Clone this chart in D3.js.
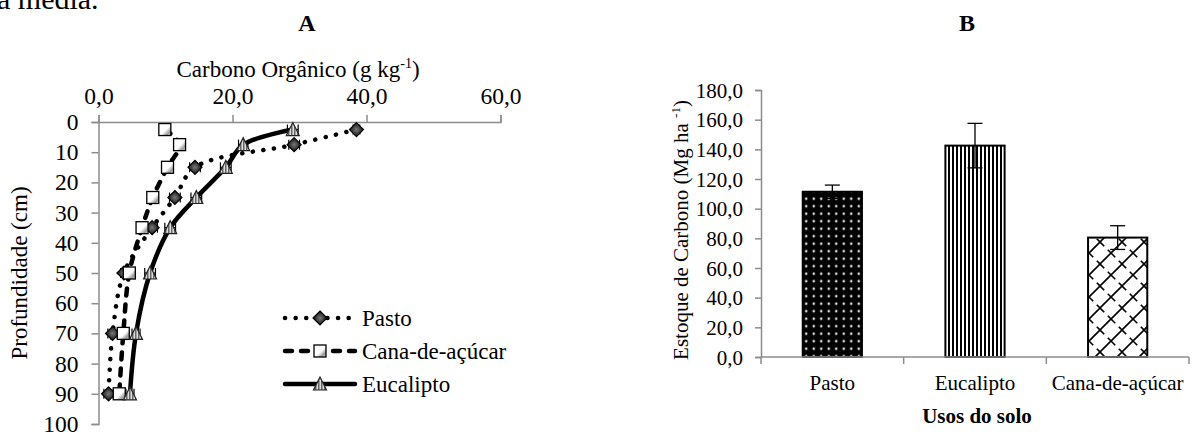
<!DOCTYPE html>
<html><head><meta charset="utf-8">
<script src="https://cdn.jsdelivr.net/npm/d3@7"></script>
<style>
html,body{margin:0;padding:0;background:#fff;}
svg{display:block;font-family:"Liberation Serif","Times New Roman",serif;}
</style></head>
<body>
<svg id="c" width="1200" height="436"></svg>
<script>
// ---------- DATA ----------
const depths = [2.5, 7.5, 15, 25, 35, 50, 70, 90];
const depthTicks = [0,10,20,30,40,50,60,70,80,90,100];
const carbonTicks = [0,20,40,60];
const pastoC = [38.5, 29.2, 14.4, 11.4, 8.0, 3.8, 2.1, 1.5];
const pastoErr = [0.5, 0.8, 0.8, 0.8, 0.8, 0.5, 0.7, 0.7];
const canaC = [9.9, 12.1, 10.3, 8.1, 6.5, 4.6, 3.7, 3.1];
const canaErr = [0.4, 0.6, 0.5, 0.6, 0.6, 0.7, 0.6, 0.8];
const eucC = [29.0, 21.6, 19.0, 14.6, 10.7, 7.7, 5.6, 4.7];
const eucErr = [0.8, 0.7, 0.8, 0.8, 0.8, 0.8, 0.6, 0.6];
const seriesNames = ["Pasto", "Cana-de-açúcar", "Eucalipto"];

const usos = ["Pasto", "Eucalipto", "Cana-de-açúcar"];
const estoque = [111.4, 142.5, 80.5];
const estoqueErr = [4.5, 15.0, 8.0];
const estoqueTicks = [0,20,40,60,80,100,120,140,160,180];

// ---------- SETUP ----------
const svg = d3.select("#c");
const fmt = v => d3.format(".1f")(v).replace(".", ",");
const axisGray = "#8c8c8c";
const defs = svg.append("defs");

const dg = defs.append("radialGradient").attr("id","diamG");
dg.append("stop").attr("offset","0%").attr("stop-color","#777");
dg.append("stop").attr("offset","100%").attr("stop-color","#111");
const sg = defs.append("linearGradient").attr("id","sqG").attr("x1","0").attr("y1","0").attr("x2","1").attr("y2","1");
sg.append("stop").attr("offset","0%").attr("stop-color","#fff");
sg.append("stop").attr("offset","55%").attr("stop-color","#fff");
sg.append("stop").attr("offset","80%").attr("stop-color","#999");
sg.append("stop").attr("offset","100%").attr("stop-color","#ddd");
const tp = defs.append("pattern").attr("id","triP").attr("patternUnits","userSpaceOnUse").attr("width",3).attr("height",3);
tp.append("rect").attr("width",3).attr("height",3).attr("fill","#ddd");
tp.append("rect").attr("width",1.5).attr("height",3).attr("fill","#666");

const pd = defs.append("pattern").attr("id","dotsP").attr("patternUnits","userSpaceOnUse").attr("width",7.5).attr("height",7.5);
pd.append("rect").attr("width",7.5).attr("height",7.5).attr("fill","#000");
pd.append("circle").attr("cx",3.75).attr("cy",3.75).attr("r",1.3).attr("fill","#ddd");
const pv = defs.append("pattern").attr("id","vertP").attr("patternUnits","userSpaceOnUse").attr("width",4).attr("height",4);
pv.append("rect").attr("width",4).attr("height",4).attr("fill","#fff");
pv.append("rect").attr("width",2).attr("height",4).attr("fill","#000");
const pl = defs.append("pattern").attr("id","latP").attr("patternUnits","userSpaceOnUse").attr("width",22).attr("height",22);
pl.append("rect").attr("width",22).attr("height",22).attr("fill","#fff");
pl.append("path").attr("d","M0,22 L22,0 M-11,11 L11,-11 M11,33 L33,11").attr("stroke","#000").attr("stroke-width",1.6);
pl.append("path").attr("d","M0,0 L11,11 M11,11 L22,22").attr("stroke","#000").attr("stroke-width",1.6).attr("stroke-dasharray","6 5");

// top cut text
svg.append("text").attr("x",-3).attr("y",9).attr("font-size",30).text("a média.");

// ---------- CHART A ----------
const xA = d3.scaleLinear().domain([0,60]).range([98.5,500.5]);
const yA = d3.scaleLinear().domain([0,100]).range([122,424]);

svg.append("text").attr("x",307).attr("y",31).attr("text-anchor","middle")
  .attr("font-size",24).attr("font-weight","bold").text("A");

const xt = svg.append("text").attr("x",298).attr("y",77).attr("text-anchor","middle").attr("font-size",23);
xt.append("tspan").text("Carbono Orgânico (g kg");
xt.append("tspan").attr("font-size",14).attr("dy",-9).text("-1");
xt.append("tspan").attr("dy",9).text(")");

const gxA = svg.append("g").attr("transform",`translate(0,${yA(0)})`)
  .call(d3.axisTop(xA).tickValues(carbonTicks).tickFormat(fmt).tickSizeOuter(0).tickSize(7).tickPadding(11));
const gyA = svg.append("g").attr("transform",`translate(${xA(0)},0)`)
  .call(d3.axisLeft(yA).tickValues(depthTicks).tickFormat(d3.format("d")).tickSizeOuter(0).tickSize(7).tickPadding(13));
[gxA, gyA].forEach(g => {
  g.select(".domain").attr("stroke",axisGray).attr("stroke-width",1.5);
  g.selectAll(".tick line").attr("stroke",axisGray).attr("stroke-width",1.5);
  g.selectAll(".tick text").attr("font-size",23.5).attr("font-family","Liberation Serif, Times New Roman, serif").attr("fill","#000");
});
gyA.selectAll(".tick text").attr("dy","0.32em");

svg.append("text").attr("transform",`translate(27,${(yA(0)+yA(100))/2}) rotate(-90)`)
  .attr("text-anchor","middle").attr("font-size",23).text("Profundidade (cm)");

const seriesA = [
  {name:seriesNames[0], vals:pastoC, err:pastoErr, dash:"0.1 10.5", marker:"diamond"},
  {name:seriesNames[1], vals:canaC, err:canaErr, dash:"7 9", marker:"square"},
  {name:seriesNames[2], vals:eucC, err:eucErr, dash:null, marker:"triangle"}
];
const line = d3.line().x(d=>xA(d.c)).y(d=>yA(d.d)).curve(d3.curveCatmullRom.alpha(0.5));

function styleLine(sel, s){
  sel.attr("fill","none").attr("stroke","#000").attr("stroke-width",4.5).attr("stroke-linecap","round").attr("stroke-linejoin","round");
  if (s.dash) sel.attr("stroke-dasharray", s.dash);
}
function drawMarker(g, type, cx, cy){
  if (type==="diamond") {
    g.append("path").attr("d",`M${cx},${cy-7} L${cx+7},${cy} L${cx},${cy+7} L${cx-7},${cy} Z`)
      .attr("fill","url(#diamG)").attr("stroke","#000").attr("stroke-width",1.2);
  } else if (type==="square") {
    g.append("rect").attr("x",cx-6).attr("y",cy-6).attr("width",12).attr("height",12)
      .attr("fill","url(#sqG)").attr("stroke","#000").attr("stroke-width",1.3);
  } else {
    g.append("path").attr("d",`M${cx},${cy-7} L${cx+6.5},${cy+6} L${cx-6.5},${cy+6} Z`)
      .attr("fill","url(#triP)").attr("stroke","#222").attr("stroke-width",1.2);
  }
}

seriesA.forEach(s => {
  const pts = depths.map((d,i)=>({d:d, c:s.vals[i]}));
  styleLine(svg.append("path").attr("d", line(pts)), s);
});
seriesA.forEach(s => {
  const g = svg.append("g");
  depths.forEach((d,i) => {
    const y = yA(d), x1 = xA(s.vals[i]-s.err[i]), x2 = xA(s.vals[i]+s.err[i]);
    g.append("line").attr("x1",x1).attr("x2",x2).attr("y1",y).attr("y2",y).attr("stroke","#000").attr("stroke-width",1.2);
    [x1,x2].forEach(x => g.append("line").attr("x1",x).attr("x2",x).attr("y1",y-5).attr("y2",y+5).attr("stroke","#000").attr("stroke-width",1.2));
  });
  depths.forEach((d,i) => drawMarker(g, s.marker, xA(s.vals[i]), yA(d)));
});

// legend
const legY = [318, 351, 384];
seriesA.forEach((s,i) => {
  const g = svg.append("g");
  styleLine(g.append("path").attr("d",`M285,${legY[i]} L355,${legY[i]}`), s);
  drawMarker(g, s.marker, 320, legY[i]);
  g.append("text").attr("x",362).attr("y",legY[i]).attr("dy","0.34em").attr("font-size",23).text(s.name);
});

// ---------- CHART B ----------
const xB = d3.scaleBand().domain(usos).range([761,1189]).paddingInner(0.585).paddingOuter(0.2925);
const yB = d3.scaleLinear().domain([0,180]).range([357,90]);

svg.append("text").attr("x",967).attr("y",31).attr("text-anchor","middle")
  .attr("font-size",24).attr("font-weight","bold").text("B");

const gyB = svg.append("g").attr("transform",`translate(761,0)`)
  .call(d3.axisLeft(yB).tickValues(estoqueTicks).tickFormat(fmt).tickSizeOuter(0).tickSize(6).tickPadding(12));
gyB.select(".domain").attr("stroke",axisGray).attr("stroke-width",1.5);
gyB.selectAll(".tick line").attr("stroke",axisGray).attr("stroke-width",1.5);
gyB.selectAll(".tick text").attr("font-size",21).attr("font-family","Liberation Serif, Times New Roman, serif").attr("fill","#000").attr("dy","0.34em");

const fills = ["url(#dotsP)","url(#vertP)","url(#latP)"];
usos.forEach((u,i) => {
  svg.append("rect").attr("x",xB(u)).attr("width",xB.bandwidth())
    .attr("y",yB(estoque[i])).attr("height",yB(0)-yB(estoque[i]))
    .attr("fill",fills[i]).attr("stroke","#000").attr("stroke-width",2);
});

const bounds = [0,1,2,3].map(k => 761 + k*(1189-761)/3);
svg.append("line").attr("x1",761).attr("x2",1189).attr("y1",yB(0)).attr("y2",yB(0)).attr("stroke",axisGray).attr("stroke-width",1.5);
bounds.forEach(b => svg.append("line").attr("x1",b).attr("x2",b).attr("y1",yB(0)).attr("y2",yB(0)+7).attr("stroke",axisGray).attr("stroke-width",1.5));
usos.forEach(u => svg.append("text").attr("x",xB(u)+xB.bandwidth()/2).attr("y",390).attr("text-anchor","middle").attr("font-size",21).text(u));

usos.forEach((u,i) => {
  const cx = xB(u)+xB.bandwidth()/2;
  const t = yB(estoque[i]+estoqueErr[i]), b = yB(estoque[i]-estoqueErr[i]);
  svg.append("line").attr("x1",cx).attr("x2",cx).attr("y1",t).attr("y2",b).attr("stroke","#000").attr("stroke-width",1.3);
  [t,b].forEach(y => svg.append("line").attr("x1",cx-7.5).attr("x2",cx+7.5).attr("y1",y).attr("y2",y).attr("stroke","#000").attr("stroke-width",1.3));
});

svg.append("text").attr("x",977).attr("y",423).attr("text-anchor","middle").attr("font-size",21).attr("font-weight","bold").text("Usos do solo");

const yt = svg.append("text").attr("transform",`translate(688,230) rotate(-90)`).attr("text-anchor","middle").attr("font-size",21);
yt.append("tspan").text("Estoque de Carbono (Mg ha ");
yt.append("tspan").attr("font-size",13).attr("dy",-8).text("-1");
yt.append("tspan").attr("dy",8).text(")");
</script>
</body></html>
